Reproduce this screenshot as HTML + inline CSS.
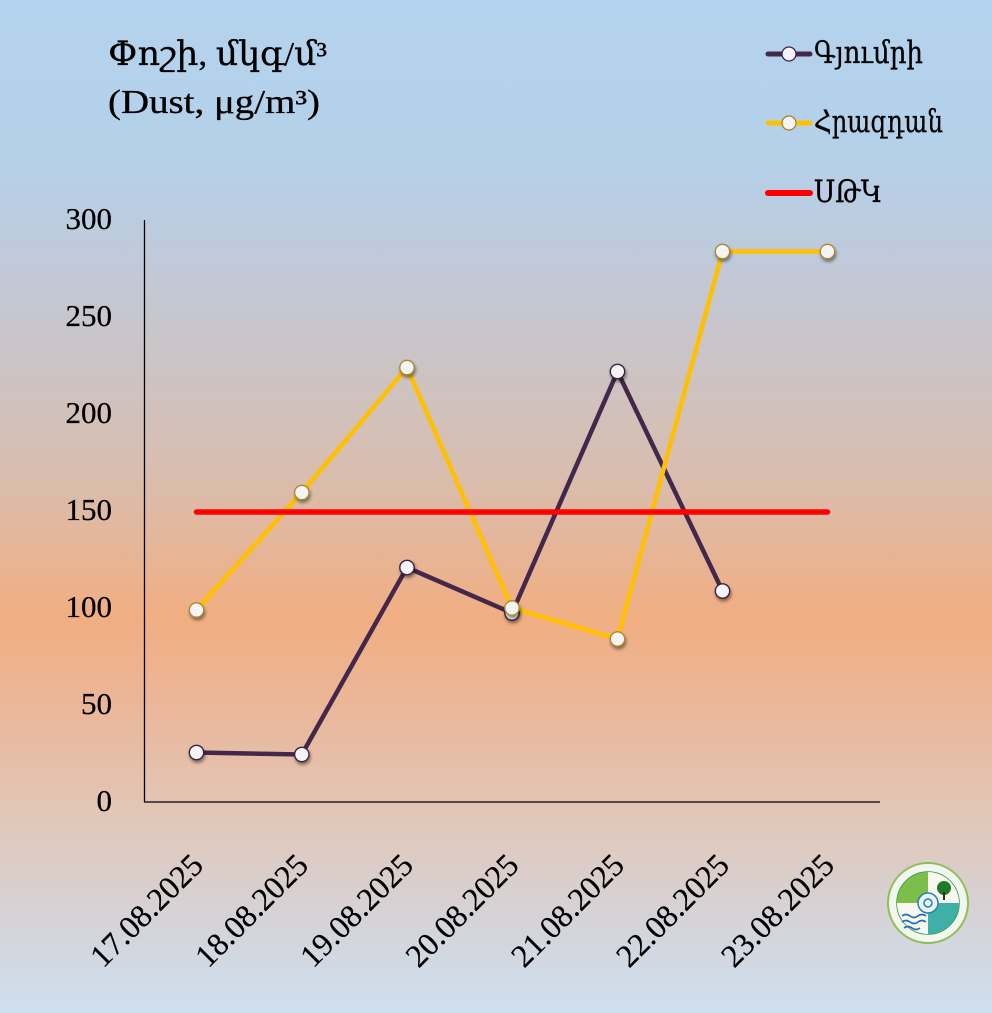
<!DOCTYPE html>
<html>
<head>
<meta charset="utf-8">
<style>
html,body{margin:0;padding:0;}
body{width:992px;height:1013px;overflow:hidden;}
svg{display:block;}
text{font-family:"Liberation Serif","DejaVu Serif",serif;fill:#000;}
</style>
</head>
<body>
<svg width="992" height="1013" viewBox="0 0 992 1013" xmlns="http://www.w3.org/2000/svg">
<defs>
<linearGradient id="bg" x1="0" y1="0" x2="0" y2="1">
<stop offset="0" stop-color="#b3d2ed"/>
<stop offset="0.15" stop-color="#b5d1ea"/>
<stop offset="0.25" stop-color="#bfcadb"/>
<stop offset="0.35" stop-color="#cbc4c6"/>
<stop offset="0.47" stop-color="#d9bdae"/>
<stop offset="0.61" stop-color="#f1ae82"/>
<stop offset="0.70" stop-color="#eab799"/>
<stop offset="0.80" stop-color="#e2c6b6"/>
<stop offset="0.90" stop-color="#d6d2d6"/>
<stop offset="1" stop-color="#cddff0"/>
</linearGradient>
<filter id="sh" x="-50%" y="-50%" width="200%" height="200%">
<feDropShadow dx="1" dy="2.5" stdDeviation="1.6" flood-color="#000" flood-opacity="0.45"/>
</filter>
</defs>
<rect x="0" y="0" width="992" height="1013" fill="url(#bg)"/>

<!-- Title -->
<text x="108" y="65" font-size="34" textLength="219" lengthAdjust="spacingAndGlyphs" stroke="#000" stroke-width="0.3">Փոշի, մկգ/մ³</text>
<text x="108" y="113" font-size="34" textLength="212" lengthAdjust="spacingAndGlyphs" stroke="#000" stroke-width="0.3">(Dust, μg/m³)</text>

<!-- Legend -->
<line x1="768" y1="54" x2="810" y2="54" stroke="#43284b" stroke-width="5" stroke-linecap="round"/>
<circle cx="789" cy="54" r="7" fill="#f4f4f6" stroke="#3b2442" stroke-width="1.3"/>
<text x="814" y="63" font-size="31" textLength="109" lengthAdjust="spacingAndGlyphs" stroke="#000" stroke-width="0.3">Գյումրի</text>
<line x1="768" y1="123" x2="810" y2="123" stroke="#ffc000" stroke-width="5" stroke-linecap="round"/>
<circle cx="789" cy="123" r="7" fill="#f4f4f6" stroke="#a08020" stroke-width="1.2"/>
<text x="814" y="132" font-size="31" textLength="129" lengthAdjust="spacingAndGlyphs" stroke="#000" stroke-width="0.3">Հրազդան</text>
<line x1="768" y1="193" x2="810" y2="193" stroke="#ff0000" stroke-width="6" stroke-linecap="round"/>
<text x="814" y="202" font-size="31" textLength="68" lengthAdjust="spacingAndGlyphs" stroke="#000" stroke-width="0.3">ՍԹԿ</text>

<!-- Axes -->
<line x1="144.5" y1="220" x2="144.5" y2="802" stroke="#000" stroke-width="1.3"/>
<line x1="144" y1="802" x2="880" y2="802" stroke="#000" stroke-width="1.3"/>

<!-- Y labels -->
<g font-size="31" text-anchor="end" stroke="#000" stroke-width="0.25">
<text x="112" y="229">300</text>
<text x="112" y="326">250</text>
<text x="112" y="423">200</text>
<text x="112" y="520">150</text>
<text x="112" y="617">100</text>
<text x="112" y="714">50</text>
<text x="112" y="811">0</text>
</g>

<!-- X labels -->
<g font-size="32" text-anchor="end" stroke="#000" stroke-width="0.25">
<text transform="translate(205,867) rotate(-45)">17.08.2025</text>
<text transform="translate(310,867) rotate(-45)">18.08.2025</text>
<text transform="translate(415,867) rotate(-45)">19.08.2025</text>
<text transform="translate(520.5,867) rotate(-45)">20.08.2025</text>
<text transform="translate(626,867) rotate(-45)">21.08.2025</text>
<text transform="translate(731,867) rotate(-45)">22.08.2025</text>
<text transform="translate(836,867) rotate(-45)">23.08.2025</text>
</g>

<!-- Gyumri -->
<polyline points="196.5,752.5 301.8,754.5 407,567.5 512,613 617.5,371.5 722.5,591" fill="none" stroke="#43284b" stroke-width="4.5" stroke-linejoin="round"/>
<!-- Hrazdan -->
<polyline points="196.5,610 301.8,492.5 407,367.5 512,608 617.5,639 722.5,251.5 827.5,251.5" fill="none" stroke="#ffc000" stroke-width="4.5" stroke-linejoin="round"/>
<!-- Red limit -->
<line x1="196.5" y1="512" x2="827.5" y2="512" stroke="#ff0000" stroke-width="5.5" stroke-linecap="round"/>

<!-- Gyumri markers -->
<g fill="#f4f4f6" stroke="#3b2442" stroke-width="1.4" filter="url(#sh)">
<circle cx="196.5" cy="752.5" r="7.2"/>
<circle cx="301.8" cy="754.5" r="7.2"/>
<circle cx="407" cy="567.5" r="7.2"/>
<circle cx="512" cy="613" r="7.2"/>
<circle cx="617.5" cy="371.5" r="7.2"/>
<circle cx="722.5" cy="591" r="7.2"/>
</g>
<!-- Hrazdan markers -->
<g fill="#f4f4f6" stroke="#a88a28" stroke-width="1.3" filter="url(#sh)">
<circle cx="196.5" cy="610" r="7.2"/>
<circle cx="301.8" cy="492.5" r="7.2"/>
<circle cx="407" cy="367.5" r="7.2"/>
<circle cx="512" cy="608" r="7.2"/>
<circle cx="617.5" cy="639" r="7.2"/>
<circle cx="722.5" cy="251.5" r="7.2"/>
<circle cx="827.5" cy="251.5" r="7.2"/>
</g>

<!-- Logo -->
<g>
<circle cx="928" cy="903" r="40" fill="#f3f6ee" stroke="#8fbf5a" stroke-width="2"/>
<circle cx="928" cy="903" r="31" fill="#ffffff" stroke="#3a9a4a" stroke-width="1.5"/>
<path d="M928,903 L928,872 A31,31 0 0,0 897,903 Z" fill="#7bbf4a"/>
<path d="M928,903 L959,903 A31,31 0 0,0 928,872 Z" fill="#f6f8f0"/>
<path d="M928,903 L928,934 A31,31 0 0,0 959,903 Z" fill="#3fb0a8"/>
<path d="M928,903 L897,903 A31,31 0 0,0 928,934 Z" fill="#f6f8f0"/>
<path d="M902,916 q4,-3 8,0 t8,0 t8,0 M902,922 q4,-3 8,0 t8,0 t8,0 M904,928 q4,-3 8,0 t8,0" fill="none" stroke="#1f6fb0" stroke-width="1.6"/>
<circle cx="944" cy="888" r="7" fill="#1f7a2a"/>
<rect x="943" y="892" width="2" height="8" fill="#3a2a10"/>
<circle cx="928" cy="903" r="10" fill="#e8f4f8" stroke="#2a80b0" stroke-width="1.5"/>
<circle cx="928" cy="903" r="4" fill="none" stroke="#2a80b0" stroke-width="1.5"/>
</g>
</svg>
</body>
</html>
